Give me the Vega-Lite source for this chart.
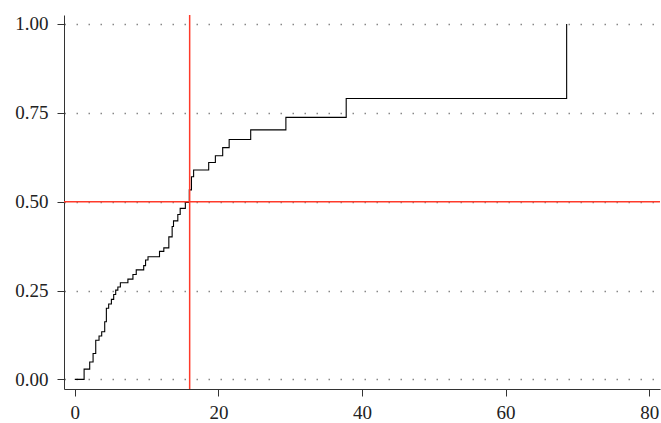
{
  "$schema": "https://vega.github.io/schema/vega-lite/v6.json",
  "width": 596,
  "height": 374,
  "autosize": {"type": "none"},
  "padding": {"left": 64, "top": 15, "right": 1, "bottom": 34},
  "background": "white",
  "config": {
    "view": {"stroke": null},
    "font": "Liberation Serif",
    "axis": {
      "labelFont": "Liberation Serif",
      "labelFontSize": 19,
      "labelColor": "#222",
      "domainColor": "#333",
      "tickColor": "#333",
      "tickSize": 7,
      "title": null
    }
  },
  "datasets": {
    "ecdf": [
      {"x": 0, "F": 0},
      {"x": 1.3, "F": 0.029},
      {"x": 2.08, "F": 0.049},
      {"x": 2.55, "F": 0.073},
      {"x": 2.92, "F": 0.11},
      {"x": 3.38, "F": 0.122},
      {"x": 3.75, "F": 0.134},
      {"x": 4.17, "F": 0.162},
      {"x": 4.4, "F": 0.2},
      {"x": 4.72, "F": 0.212},
      {"x": 5.1, "F": 0.225},
      {"x": 5.42, "F": 0.239},
      {"x": 5.7, "F": 0.251},
      {"x": 6.0, "F": 0.26},
      {"x": 6.35, "F": 0.272},
      {"x": 7.4, "F": 0.282},
      {"x": 8.1, "F": 0.295},
      {"x": 8.56, "F": 0.308},
      {"x": 9.6, "F": 0.32},
      {"x": 9.86, "F": 0.336},
      {"x": 10.2, "F": 0.345},
      {"x": 11.8, "F": 0.36},
      {"x": 12.4, "F": 0.37},
      {"x": 13.1, "F": 0.401},
      {"x": 13.56, "F": 0.43},
      {"x": 13.75, "F": 0.446},
      {"x": 14.35, "F": 0.464},
      {"x": 14.68, "F": 0.481},
      {"x": 15.4, "F": 0.498},
      {"x": 15.95, "F": 0.533},
      {"x": 16.25, "F": 0.57},
      {"x": 16.55, "F": 0.589},
      {"x": 18.65, "F": 0.61},
      {"x": 19.58, "F": 0.629},
      {"x": 20.6, "F": 0.652},
      {"x": 21.5, "F": 0.675},
      {"x": 24.5, "F": 0.702},
      {"x": 29.4, "F": 0.737},
      {"x": 37.8, "F": 0.79},
      {"x": 68.5, "F": 1.0}
    ],
    "median": [{"median": 16, "p": 0.5}]
  },
  "layer": [
    {
      "data": {"name": "ecdf"},
      "mark": {"type": "line", "interpolate": "step-after", "color": "black", "strokeWidth": 1.1},
      "encoding": {
        "x": {
          "field": "x", "type": "quantitative",
          "scale": {"domain": [-1.5, 81.5], "nice": false, "zero": false},
          "axis": {"values": [0, 20, 40, 60, 80], "grid": false, "format": "d", "labelPadding": 7}
        },
        "y": {
          "field": "F", "type": "quantitative",
          "scale": {"domain": [-0.027, 1.025], "nice": false, "zero": false},
          "axis": {
            "values": [0, 0.25, 0.5, 0.75, 1],
            "format": ".2f",
            "labelPadding": 9,
            "grid": true,
            "gridColor": "#888",
            "gridDash": [1.5, 10.5],
            "gridWidth": 1.3
          }
        }
      }
    },
    {
      "data": {"name": "median"},
      "mark": {"type": "rule", "color": "#ff3a2a", "strokeWidth": 1.5, "opacity": 1},
      "encoding": {"x": {"field": "median", "type": "quantitative"}}
    },
    {
      "data": {"name": "median"},
      "mark": {"type": "rule", "color": "#ff3a2a", "strokeWidth": 1.5, "opacity": 1},
      "encoding": {"y": {"field": "p", "type": "quantitative"}}
    }
  ]
}
